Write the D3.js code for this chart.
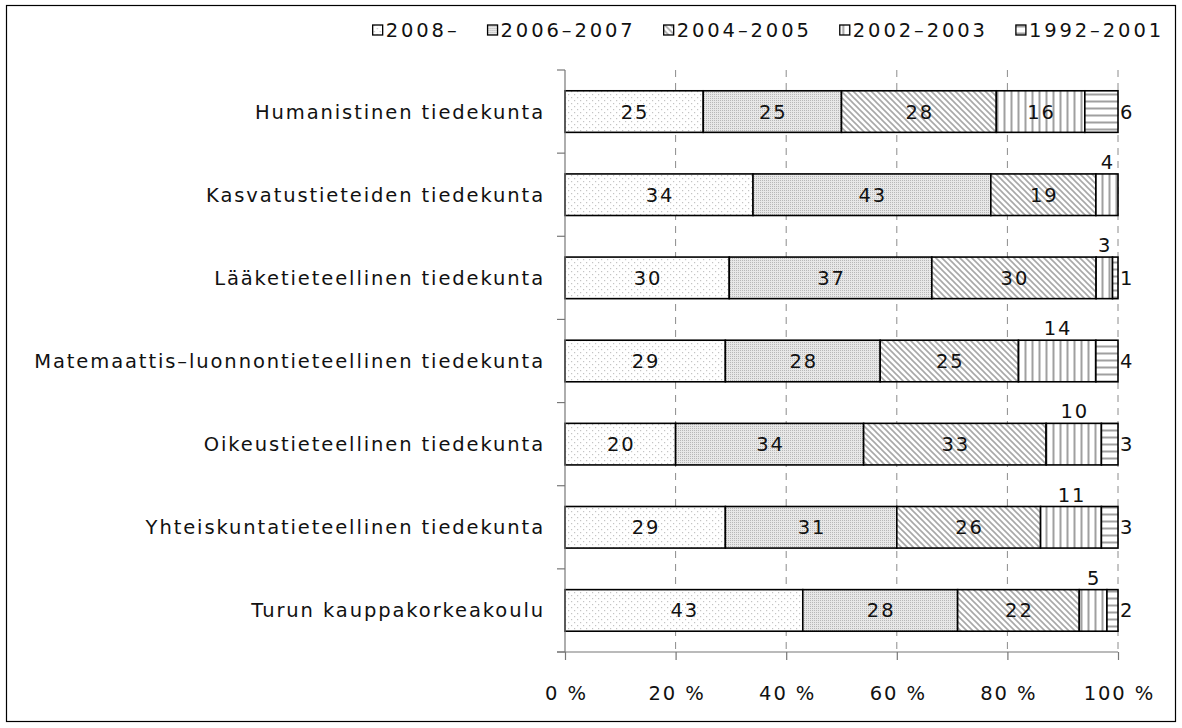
<!DOCTYPE html>
<html><head><meta charset="utf-8">
<script src="https://cdn.jsdelivr.net/npm/d3@7"></script>
<style>
html,body{margin:0;padding:0;background:#fff;}
svg text{font-family:"DejaVu Sans",sans-serif;font-size:19.5px;fill:#111;letter-spacing:1.9px;}
svg text.lg{letter-spacing:2.9px;}
</style></head>
<body><svg id="c" width="1182" height="728"></svg>
<script>
const categories = [
  "Humanistinen tiedekunta",
  "Kasvatustieteiden tiedekunta",
  "Lääketieteellinen tiedekunta",
  "Matemaattis–luonnontieteellinen tiedekunta",
  "Oikeustieteellinen tiedekunta",
  "Yhteiskuntatieteellinen tiedekunta",
  "Turun kauppakorkeakoulu"
];
const seriesNames = ["2008–", "2006–2007", "2004–2005", "2002–2003", "1992–2001"];
const s2008 = [25, 34, 30, 29, 20, 29, 43];
const s2006 = [25, 43, 37, 28, 34, 31, 28];
const s2004 = [28, 19, 30, 25, 33, 26, 22];
const s2002 = [16, 4, 3, 14, 10, 11, 5];
const s1992 = [6, 0, 1, 4, 3, 3, 2];
const xTicks = [0, 20, 40, 60, 80, 100];
const xTickLabels = ["0 %", "20 %", "40 %", "60 %", "80 %", "100 %"];

const seriesVals = [s2008, s2006, s2004, s2002, s1992];
const svg = d3.select("#c");
const m = {l: 565, r: 1118, t: 70, b: 652};
const LS = 1.9;

// border
svg.append("rect").attr("x", 6.5).attr("y", 5.5).attr("width", 1169).attr("height", 716)
  .attr("fill", "#fff").attr("stroke", "#000").attr("stroke-width", 1.2);

// patterns
const defs = svg.append("defs");
function pat(id, w, h, bg, draw) {
  const p = defs.append("pattern").attr("id", id).attr("patternUnits", "userSpaceOnUse")
    .attr("width", w).attr("height", h);
  p.append("rect").attr("width", w).attr("height", h).attr("fill", bg);
  draw(p);
}
pat("p0", 6, 6, "#fff", p => {
  p.append("rect").attr("x", 1).attr("y", 1).attr("width", 1.2).attr("height", 1.2).attr("fill", "#c4c4c4");
  p.append("rect").attr("x", 4).attr("y", 4).attr("width", 1.2).attr("height", 1.2).attr("fill", "#c4c4c4");
});
pat("p1", 2, 2, "#e8e8e8", p => {
  p.append("rect").attr("x", 0).attr("y", 0).attr("width", 1).attr("height", 1).attr("fill", "#b8b8b8");
});
pat("p2", 6, 6, "#fff", p => {
  p.append("path").attr("d", "M-1,-1 L7,7 M-4,2 L2,8 M4,-2 L8,2").attr("stroke", "#a8a8a8").attr("stroke-width", 1.6);
});
pat("p3", 7, 10, "#fff", p => {
  p.append("rect").attr("x", 2.5).attr("y", 0).attr("width", 2).attr("height", 10).attr("fill", "#a0a0a0");
});
pat("p4", 10, 7, "#fff", p => {
  p.append("rect").attr("x", 0).attr("y", 2.5).attr("width", 10).attr("height", 2).attr("fill", "#a0a0a0");
});

const x = d3.scaleLinear().domain([0, 100]).range([m.l, m.r]);
const y = d3.scaleBand().domain(categories).range([m.t, m.b]).paddingInner(0.5).paddingOuter(0.25);

// gridlines
svg.append("g").selectAll("line").data(xTicks.filter(d => d > 0)).join("line")
  .attr("x1", d => x(d)).attr("x2", d => x(d)).attr("y1", m.t).attr("y2", m.b)
  .attr("stroke", "#8c8c8c").attr("stroke-width", 1).attr("stroke-dasharray", "7,6");

// stack data
const rows = categories.map((c, i) => {
  const vals = seriesVals.map(s => s[i]);
  const tot = d3.sum(vals);
  let acc = 0;
  return vals.map((v, k) => {
    const seg = {cat: c, k, v, x0: acc / tot * 100, x1: (acc + v) / tot * 100};
    acc += v; return seg;
  });
});
const segs = rows.flat().filter(d => d.v > 0);

svg.append("g").selectAll("rect").data(segs).join("rect")
  .attr("x", d => x(d.x0)).attr("width", d => x(d.x1) - x(d.x0))
  .attr("y", d => y(d.cat)).attr("height", y.bandwidth())
  .attr("fill", d => `url(#p${d.k})`).attr("stroke", "#000").attr("stroke-width", 1.6);

// value labels
svg.append("g").selectAll("text").data(segs).join("text")
  .attr("x", d => {
    if (d.k === 4 && d.v < 15) return x(d.x1) + 2;
    return (x(d.x0) + x(d.x1)) / 2 + LS / 2;
  })
  .attr("y", d => {
    if (d.v >= 15 || d.k === 4) return y(d.cat) + y.bandwidth() / 2 + 7;
    return y(d.cat) - 5;
  })
  .attr("text-anchor", d => (d.k === 4 && d.v < 15) ? "start" : "middle")
  .text(d => d.v);

// y axis
const yb = [m.t].concat(categories.map(c => y(c) + y.bandwidth() + y.step() * y.paddingInner() / 2));
yb[yb.length - 1] = m.b;
const ya = svg.append("g").attr("stroke", "#777").attr("stroke-width", 1.2);
ya.append("line").attr("x1", m.l).attr("x2", m.l).attr("y1", m.t).attr("y2", m.b);
ya.selectAll("line.t").data(yb).join("line").attr("class", "t")
  .attr("x1", m.l - 8).attr("x2", m.l).attr("y1", d => d).attr("y2", d => d);

svg.append("g").selectAll("text").data(categories).join("text")
  .attr("x", m.l - 20).attr("y", d => y(d) + y.bandwidth() / 2 + 7)
  .attr("text-anchor", "end").text(d => d);

// x axis
const xa = svg.append("g").attr("transform", `translate(0,${m.b})`)
  .call(d3.axisBottom(x).tickValues(xTicks).tickSize(8).tickFormat((d, i) => xTickLabels[i]).tickPadding(26));
xa.attr("font-family", null).attr("font-size", null);
xa.select(".domain").attr("stroke", "#777").attr("stroke-width", 1.2).attr("d", `M${m.l - 8},0H${m.r}`);
xa.selectAll(".tick line").attr("stroke", "#777").attr("stroke-width", 1.2);
xa.selectAll(".tick text").attr("fill", "#111").attr("dx", LS / 2);

// legend
const lg = svg.append("g");
let lx = 0;
seriesNames.forEach((n, k) => {
  const g = lg.append("g");
  g.append("rect").attr("x", 0).attr("y", -5).attr("width", 10).attr("height", 10)
    .attr("fill", `url(#p${k})`).attr("stroke", "#000").attr("stroke-width", 1.3);
  const t = g.append("text").attr("class", "lg").attr("x", 13).attr("y", 7).text(n);
  const w = t.node().getComputedTextLength();
  g.attr("transform", `translate(${lx},30)`);
  lx += 13 + w + 28;
});
const totalW = lx - 28;
lg.attr("transform", `translate(${1164 - totalW},0)`);
</script></body></html>
